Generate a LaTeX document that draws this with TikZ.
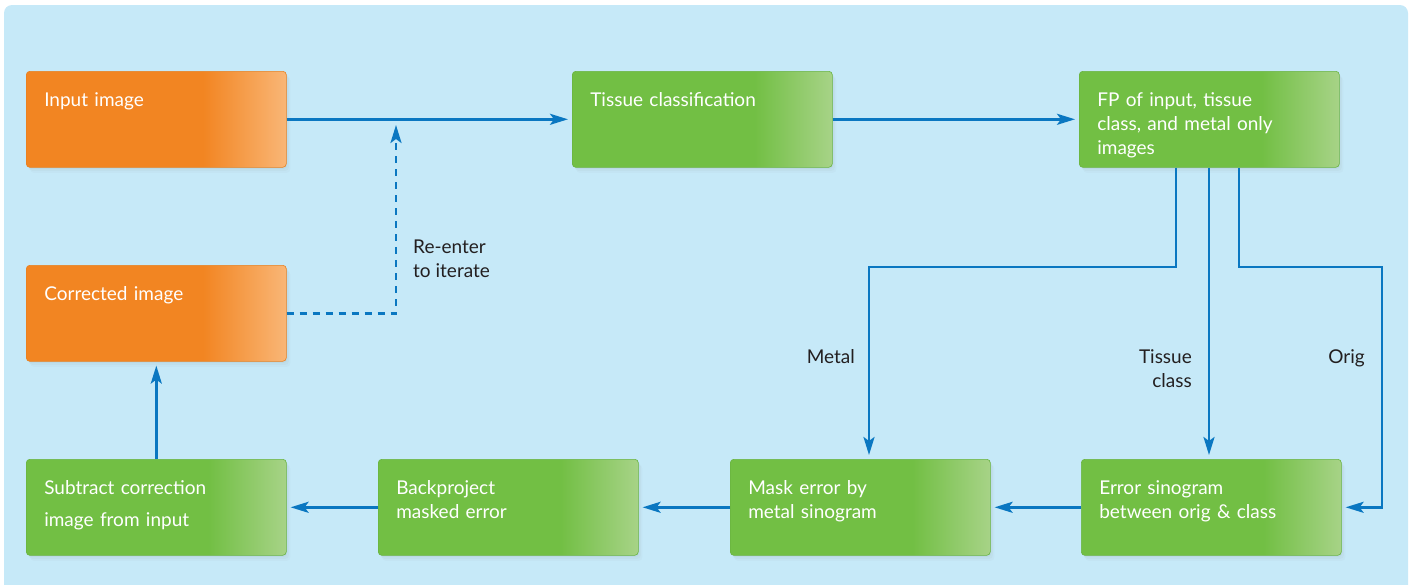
\documentclass[tikz,border=0pt]{standalone}
\usepackage{fontspec}
\setmainfont{Lato}
\usetikzlibrary{arrows.meta,shadows}
\definecolor{bg}{HTML}{C6E9F8}
\definecolor{or1}{HTML}{F28522}
\definecolor{or2}{HTML}{F9B676}
\definecolor{gr1}{HTML}{72BF44}
\definecolor{gr2}{HTML}{A7D387}
\definecolor{orb}{HTML}{E8801F}
\definecolor{grb}{HTML}{69B340}
\definecolor{arr}{HTML}{0A77C1}
\definecolor{lab}{HTML}{231F20}
\pgfdeclarehorizontalshading{orshade}{100bp}{color(0bp)=(or1); color(59bp)=(or1); color(75bp)=(or2); color(100bp)=(or2)}
\pgfdeclarehorizontalshading{grshade}{100bp}{color(0bp)=(gr1); color(60bp)=(gr1); color(75bp)=(gr2); color(100bp)=(gr2)}
\begin{document}
\begin{tikzpicture}[x=1pt,y=-1pt,
  box/.style={rectangle, rounded corners=3.5pt, text width=224pt, inner xsep=18pt, inner ysep=0pt,
    text height=35pt, text depth=61pt, align=left, anchor=north west,
    font=\fontsize{19}{24}\selectfont, text=white, line width=0.6pt,
    drop shadow={shadow xshift=1pt, shadow yshift=-1.5pt, opacity=0.06, draw=none},
    drop shadow={shadow xshift=2.5pt, shadow yshift=-3.5pt, opacity=0.05, draw=none},
    drop shadow={shadow xshift=4pt, shadow yshift=-5.5pt, opacity=0.04, draw=none}},
  obox/.style={box, draw=orb, shade, shading=orshade},
  gbox/.style={box, draw=grb, shade, shading=grshade},
  conn/.style={draw=arr, line width=2.6pt, -{Stealth[length=18pt,width=11pt,inset=4pt]}, shorten >=4pt},
  lbl/.style={text=lab, font=\fontsize{19}{24}\selectfont, inner sep=0pt}]
\useasboundingbox (0,0) rectangle (1413,584);
\fill[bg, rounded corners=8pt] (4,5) rectangle (1408,600);

\node[obox] (in) at (26,71) {Input image};
\node[gbox] (tc) at (572,71) {Tissue classification};
\node[gbox] (fp) at (1079,71) {FP of input, tissue\\class, and metal only\\images};
\node[obox] (ci) at (26,265) {Corrected image};
\node[gbox] (sc) at (26,459) {Subtract correction\\[8pt]image from input};
\node[gbox] (bp) at (378,459) {Backproject\\masked error};
\node[gbox] (me) at (730,459) {Mask error by\\metal sinogram};
\node[gbox] (es) at (1081,459) {Error sinogram\\between orig \& class};

\coordinate (j) at (396,121);
\coordinate (m1) at (1176,267);
\coordinate (mx) at (869,267);
\coordinate (tx) at (1209,267);
\coordinate (m3) at (1239,267);
\coordinate (m4) at (1382,267);

\draw[conn] (in.east) -- (tc.west);
\draw[conn] (tc.east) -- (fp.west);
\draw[conn, dash pattern=on 7pt off 6pt] (ci.east) -| (j);
\draw[conn] (fp.south -| m1) -- (m1) -- (mx) -- (me.north -| mx);
\draw[conn] (fp.south -| tx) -- (es.north -| tx);
\draw[conn] (fp.south -| m3) -- (m3) -- (m4) |- (es.east);
\draw[conn] (es.west) -- (me.east);
\draw[conn] (me.west) -- (bp.east);
\draw[conn] (bp.west) -- (sc.east);
\draw[conn] (sc.north) -- (ci.south);

\node[lbl, align=left, anchor=base west] (re) at (413,277) {Re-enter\\to iterate};
\node[lbl, anchor=base east] (lm) at (855,363) {Metal};
\node[lbl, align=right, anchor=base east] (lt) at (1192,387) {Tissue\\class};
\node[lbl, anchor=base east] (lo) at (1365,363) {Orig};
\end{tikzpicture}
\end{document}
